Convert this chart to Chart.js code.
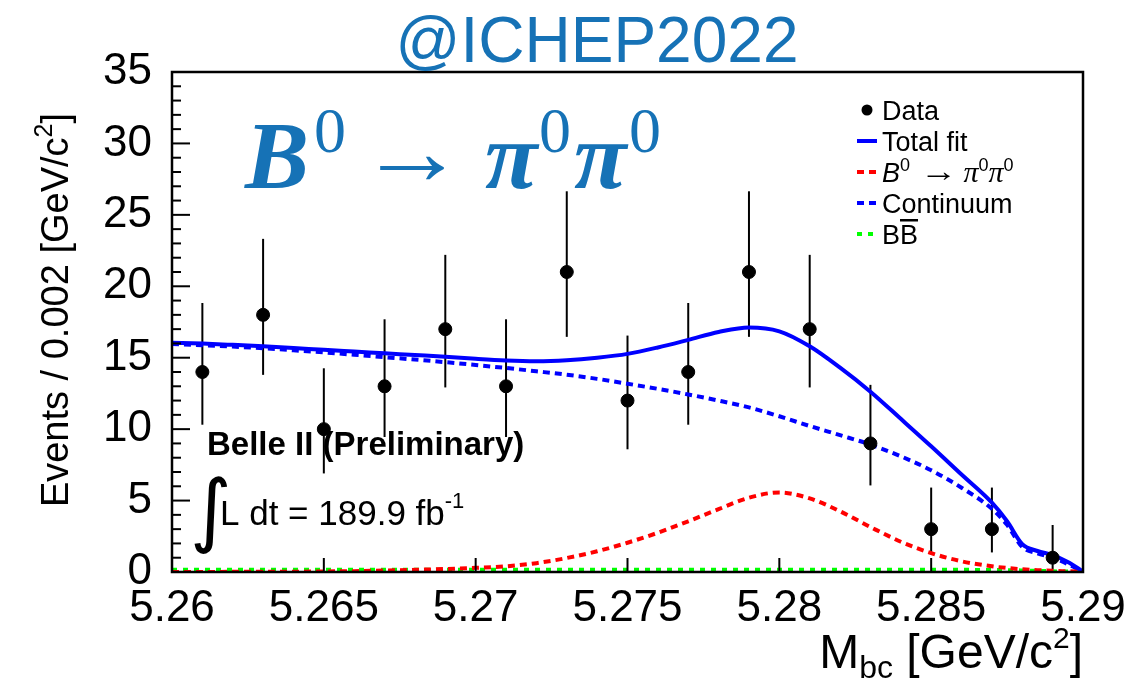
<!DOCTYPE html>
<html>
<head>
<meta charset="utf-8">
<script src="https://cdn.jsdelivr.net/npm/chart.js@4.4.0/dist/chart.umd.min.js"></script>
<style>
  html, body { margin: 0; padding: 0; background: #fff; }
  #wrap { width: 1146px; height: 690px; }
</style>
</head>
<body>
<div id="wrap"><canvas id="mbcChart" width="1146" height="690"></canvas></div>
<script>
// M_bc bin centres (GeV/c^2) and event counts per 2 MeV bin
const binCentres = [5.261, 5.263, 5.265, 5.267, 5.269, 5.271, 5.273, 5.275, 5.277, 5.279, 5.281, 5.283, 5.285, 5.287, 5.289];
const eventCounts = [14, 18, 10, 13, 17, 13, 21, 12, 14, 21, 17, 9, 3, 3, 1];
// Poisson error bars: lower and upper edge of each bar
const errLow  = [10.31, 13.80, 6.90, 9.45, 12.92, 9.45, 16.46, 8.59, 10.31, 16.46, 12.92, 6.06, 1.37, 1.37, 0.17];
const errHigh = [18.83, 23.32, 14.26, 17.69, 22.20, 17.69, 26.65, 16.55, 18.83, 26.65, 22.20, 13.10, 5.91, 5.91, 3.29];

// fit projections sampled along M_bc
const fitMass = [5.260, 5.261, 5.262, 5.263, 5.264, 5.265, 5.266, 5.267, 5.268, 5.269,
                 5.270, 5.271, 5.272, 5.273, 5.274, 5.275, 5.276, 5.277, 5.278, 5.279,
                 5.280, 5.281, 5.282, 5.283, 5.284, 5.285, 5.286, 5.287, 5.2875, 5.288,
                 5.2885, 5.289, 5.2895, 5.290];
const totalFit = [16.05, 15.99, 15.90, 15.80, 15.68, 15.55, 15.43, 15.31, 15.19, 15.07,
                  14.92, 14.80, 14.75, 14.82, 15.00, 15.27, 15.72, 16.25, 16.80, 17.12,
                  16.85, 15.80, 14.30, 12.62, 10.72, 8.80, 6.82, 4.85, 3.55, 1.95,
                  1.47, 1.18, 0.70, 0.03];
const signalPdf = [0.00, 0.00, 0.01, 0.01, 0.02, 0.04, 0.06, 0.10, 0.15, 0.21,
                   0.29, 0.40, 0.62, 0.98, 1.45, 2.05, 2.75, 3.55, 4.40, 5.20,
                   5.57, 5.15, 4.25, 3.15, 2.12, 1.32, 0.75, 0.40, 0.28, 0.19,
                   0.13, 0.08, 0.05, 0.02];
const continuumPdf = [15.96, 15.88, 15.78, 15.66, 15.52, 15.37, 15.21, 15.04, 14.87, 14.69,
                      14.49, 14.28, 14.05, 13.81, 13.52, 13.18, 12.82, 12.43, 12.00, 11.52,
                      10.90, 10.22, 9.58, 8.92, 8.10, 7.12, 5.90, 4.42, 3.30, 1.75,
                      1.30, 1.00, 0.55, 0.00];
const bbbarPdf = [0.15, 0.15, 0.15, 0.15, 0.15, 0.15, 0.15, 0.15, 0.15, 0.15,
                  0.15, 0.15, 0.15, 0.15, 0.15, 0.15, 0.15, 0.15, 0.15, 0.15,
                  0.15, 0.15, 0.15, 0.15, 0.15, 0.15, 0.15, 0.14, 0.13, 0.11,
                  0.08, 0.05, 0.03, 0.01];

const xTickValues = [5.26, 5.265, 5.27, 5.275, 5.28, 5.285, 5.29];
const xTickLabels = ['5.26', '5.265', '5.27', '5.275', '5.28', '5.285', '5.29'];
const yMajorTicks = [0, 5, 10, 15, 20, 25, 30, 35];

const SANS = '"Liberation Sans", Arial, Helvetica, sans-serif';
const SERIF = '"Liberation Serif", "Times New Roman", serif';
const BLUE_TXT = '#1672b6';

function toPoints(xs, ys) {
    return xs.map((x, i) => ({ x: x, y: ys[i] }));
}

// draw a run of text pieces [text, font, dy] starting at x, returns width
function drawParts(ctx, x, y, parts) {
    let cx = x;
    parts.forEach(([text, font, dy]) => {
        ctx.font = font;
        ctx.fillText(text, cx, y + (dy || 0));
        cx += ctx.measureText(text).width;
    });
    return cx - x;
}

function partsWidth(ctx, parts) {
    let w = 0;
    parts.forEach(([text, font]) => {
        ctx.font = font;
        w += ctx.measureText(text).width;
    });
    return w;
}

// arrow glyph stretched sideways so it reads as a long reaction arrow
function drawArrow(ctx, x, y, font, stretch) {
    ctx.save();
    ctx.translate(x, y);
    ctx.scale(stretch, 1);
    ctx.font = font;
    ctx.fillText('\u2192', 0, 0);
    const w = ctx.measureText('\u2192').width * stretch;
    ctx.restore();
    return w;
}

// vertical error bars under the markers
const errorBars = {
    id: 'errorBars',
    beforeDatasetsDraw(chart) {
        const { ctx, scales: { x, y } } = chart;
        ctx.save();
        ctx.strokeStyle = '#000';
        ctx.lineWidth = 2;
        binCentres.forEach((m, i) => {
            const px = x.getPixelForValue(m);
            ctx.beginPath();
            ctx.moveTo(px, y.getPixelForValue(errLow[i]));
            ctx.lineTo(px, y.getPixelForValue(errHigh[i]));
            ctx.stroke();
        });
        ctx.restore();
    }
};

// frame around the plot with inward tick marks
const frameTicks = {
    id: 'frameTicks',
    afterDatasetsDraw(chart) {
        const { ctx, chartArea: a, scales: { x, y } } = chart;
        ctx.save();
        ctx.strokeStyle = '#000';
        ctx.lineWidth = 2;
        y.ticks.forEach(t => {
            const py = y.getPixelForValue(t.value);
            const len = yMajorTicks.includes(t.value) ? 18 : 9;
            ctx.beginPath();
            ctx.moveTo(a.left, py);
            ctx.lineTo(a.left + len, py);
            ctx.stroke();
        });
        xTickValues.forEach(v => {
            const px = x.getPixelForValue(v);
            ctx.beginPath();
            ctx.moveTo(px, a.bottom);
            ctx.lineTo(px, a.bottom - 14);
            ctx.stroke();
        });
        ctx.lineWidth = 2.5;
        ctx.strokeRect(a.left, a.top, a.right - a.left, a.bottom - a.top);
        ctx.restore();
    }
};

// titles, legend and labels
const annotations = {
    id: 'annotations',
    afterDraw(chart) {
        const { ctx, chartArea: a } = chart;
        ctx.save();
        ctx.textBaseline = 'alphabetic';

        // conference tag
        ctx.fillStyle = BLUE_TXT;
        ctx.textAlign = 'center';
        ctx.font = '64px ' + SANS;
        ctx.fillText('@ICHEP2022', 597, 62);

        // decay channel
        ctx.textAlign = 'left';
        ctx.font = 'bold italic 96px ' + SERIF;
        ctx.fillText('B', 245, 188);
        ctx.font = '64px ' + SERIF;
        ctx.fillText('0', 314, 152);
        drawArrow(ctx, 358, 184, 'bold 96px ' + SERIF, 1.12);
        ctx.font = 'bold italic 96px ' + SERIF;
        ctx.fillText('\u03c0', 485, 188);
        ctx.font = '64px ' + SERIF;
        ctx.fillText('0', 539, 152);
        ctx.font = 'bold italic 96px ' + SERIF;
        ctx.fillText('\u03c0', 574, 188);
        ctx.font = '64px ' + SERIF;
        ctx.fillText('0', 629, 152);

        // experiment labels
        ctx.fillStyle = '#000';
        ctx.font = 'bold 33px ' + SANS;
        ctx.fillText('Belle II (Preliminary)', 207, 455);
        ctx.font = '80px "DejaVu Sans", ' + SANS;
        ctx.fillText('\u222b', 190, 537);
        drawParts(ctx, 220, 525, [
            ['L dt = 189.9 fb', '35px ' + SANS],
            ['-1', '22px ' + SANS, -17]
        ]);

        // legend
        const rows = [110, 141, 172, 203, 234];
        const plain = '27px ' + SANS;
        const sup = '18px ' + SANS;
        chart.data.datasets.forEach((ds, i) => {
            const cy = rows[i];
            if (i === 0) {
                ctx.fillStyle = '#000';
                ctx.beginPath();
                ctx.arc(867, cy, 5.5, 0, Math.PI * 2);
                ctx.fill();
            } else {
                ctx.strokeStyle = ds.borderColor;
                ctx.lineWidth = 4;
                ctx.setLineDash(ds.borderDash || []);
                ctx.beginPath();
                ctx.moveTo(857, cy);
                ctx.lineTo(877, cy);
                ctx.stroke();
                ctx.setLineDash([]);
            }
            ctx.fillStyle = '#000';
            const base = cy + 10;
            if (i === 2) {
                let x = 882;
                x += drawParts(ctx, x, base, [['B', 'italic ' + plain], ['0', sup, -11]]);
                x += 10;
                x += drawArrow(ctx, x, base - 1, '30px ' + SERIF, 1.25);
                x += 6;
                drawParts(ctx, x, base, [
                    ['\u03c0', 'italic 30px ' + SERIF], ['0', sup, -11],
                    ['\u03c0', 'italic 30px ' + SERIF], ['0', sup, -11]
                ]);
            } else {
                const label = ['Data', 'Total fit', '', 'Continuum', 'BB'][i];
                drawParts(ctx, 882, base, [[label, plain]]);
            }
        });
        // bar over the second B
        ctx.font = plain;
        const bw = ctx.measureText('B').width;
        ctx.fillRect(882 + bw, rows[4] - 15, bw, 2.5);

        // axis titles
        const xTitle = [
            ['M', '48px ' + SANS],
            ['bc', '32px ' + SANS, 10],
            [' [GeV/c', '48px ' + SANS],
            ['2', '30px ' + SANS, -20],
            [']', '48px ' + SANS]
        ];
        drawParts(ctx, a.right - partsWidth(ctx, xTitle), 668, xTitle);

        const yTitle = [
            ['Events / 0.002 [GeV/c', '38px ' + SANS],
            ['2', '25px ' + SANS, -16],
            [']', '38px ' + SANS]
        ];
        ctx.translate(68, 113);
        ctx.rotate(-Math.PI / 2);
        drawParts(ctx, -partsWidth(ctx, yTitle), 0, yTitle);
        ctx.restore();
    }
};

const ctx = document.getElementById('mbcChart').getContext('2d');

const curve = (label, xs, ys, color, dash) => ({
    label: label,
    data: toPoints(xs, ys),
    showLine: true,
    borderColor: color,
    borderWidth: 4,
    borderDash: dash,
    pointRadius: 0,
    fill: false,
    cubicInterpolationMode: 'monotone'
});

new Chart(ctx, {
    type: 'scatter',
    data: {
        datasets: [
            {
                label: 'Data',
                data: toPoints(binCentres, eventCounts),
                backgroundColor: '#000',
                borderColor: '#000',
                pointRadius: 6.5,
                pointHoverRadius: 6.5
            },
            curve('Total fit', fitMass, totalFit, '#0000ff', []),
            curve('Signal', fitMass, signalPdf, '#ff0000', [7, 5]),
            curve('Continuum', fitMass, continuumPdf, '#0000ff', [7, 5]),
            curve('BBbar', fitMass, bbbarPdf, '#00ff00', [5, 6])
        ]
    },
    options: {
        responsive: false,
        animation: false,
        layout: { padding: { top: 72, right: 63, left: 0, bottom: 0 } },
        plugins: {
            legend: { display: false },
            tooltip: { enabled: false }
        },
        scales: {
            x: {
                type: 'linear',
                min: 5.26,
                max: 5.29,
                afterBuildTicks: scale => {
                    scale.ticks = xTickValues.map(v => ({ value: v }));
                },
                afterFit: scale => { scale.height = 118; },
                grid: { display: false, drawTicks: false },
                border: { display: false },
                ticks: {
                    autoSkip: false,
                    maxRotation: 0,
                    padding: 10,
                    color: '#000',
                    font: { family: SANS, size: 44 },
                    callback: (v, i) => xTickLabels[i]
                }
            },
            y: {
                min: 0,
                max: 35,
                afterFit: scale => { scale.width = 172; },
                grid: { display: false, drawTicks: false },
                border: { display: false },
                ticks: {
                    stepSize: 1,
                    autoSkip: false,
                    padding: 20,
                    color: '#000',
                    font: { family: SANS, size: 44 },
                    callback: v => yMajorTicks.includes(v) ? String(v) : ''
                }
            }
        }
    },
    plugins: [errorBars, frameTicks, annotations]
});
</script>
</body>
</html>
